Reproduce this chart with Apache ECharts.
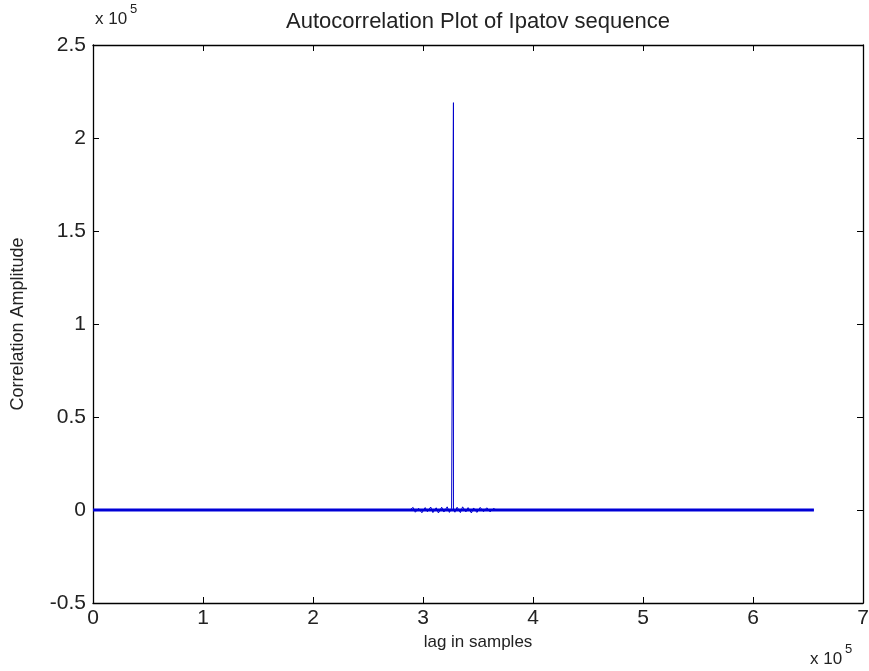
<!DOCTYPE html>
<html>
<head>
<meta charset="utf-8">
<title>Autocorrelation Plot of Ipatov sequence</title>
<script src="https://cdn.jsdelivr.net/npm/echarts@6/dist/echarts.min.js"></script>
<style>
  html, body { margin: 0; padding: 0; background: #fff; }
  #chart { width: 869px; height: 671px; }
</style>
</head>
<body>
<div id="chart"></div>
<script>
// lag (samples) and correlation amplitude
const lags = [
  0, 288000, 291000, 293000, 296000, 299000, 302000, 304000, 307000, 309000,
  312000, 314000, 317000, 319000, 322000, 324000, 326000, 327679, 327680, 327681,
  329000, 331000, 334000, 336000, 339000, 341000, 344000, 346000, 349000, 352000,
  355000, 358000, 361000, 364000, 367000, 655359
];
const amps = [
  0, 0, 1400, -1200, 900, -1500, 1300, -900, 1600, -1400,
  1200, -1600, 1500, -1100, 1700, -1300, 1000, 0, 219000, 0,
  -1200, 1500, -1400, 1700, -1000, 1300, -1600, 1100, -1300, 1400,
  -900, 1200, -1000, 800, 0, 0
];

const xTicks = [0, 1, 2, 3, 4, 5, 6, 7];
const yTicks = [-0.5, 0, 0.5, 1, 1.5, 2, 2.5];
const scale = 1e5;

const font = "Liberation Sans, Arial, sans-serif";
const textColor = "#222";
const grid = { left: 93, right: 6, top: 45, bottom: 68, outerBoundsMode: "none", containLabel: false };

const fmt = (v) => String(Math.round(v / scale * 10) / 10);

const chart = echarts.init(document.getElementById("chart"));

const tickStyle = { inside: true, length: 6, lineStyle: { color: "#000", width: 1 } };
const lineStyle = { color: "#000", width: 1.3 };

function exponentLabel(x, y) {
  return [
    {
      type: "text",
      left: x,
      top: y,
      style: { text: "x 10", fontFamily: font, fontSize: 17, fill: textColor }
    },
    {
      type: "text",
      left: x + 35,
      top: y - 8,
      style: { text: "5", fontFamily: font, fontSize: 13, fill: textColor }
    }
  ];
}

const option = {
  animation: false,
  backgroundColor: "#fff",
  title: {
    text: "Autocorrelation Plot of Ipatov sequence",
    left: 473,
    top: 6,
    textAlign: "center",
    textStyle: { fontFamily: font, fontSize: 22, fontWeight: "normal", color: textColor }
  },
  grid,
  xAxis: [
    {
      type: "value",
      min: xTicks[0] * scale,
      max: xTicks[xTicks.length - 1] * scale,
      interval: scale,
      name: "lag in samples",
      nameLocation: "middle",
      nameGap: 21,
      nameTextStyle: { fontFamily: font, fontSize: 17, color: textColor },
      axisLine: { onZero: false, lineStyle },
      axisTick: tickStyle,
      splitLine: { show: false },
      axisLabel: { formatter: fmt, fontFamily: font, fontSize: 21, color: textColor, margin: 5 }
    },
    {
      type: "value",
      position: "top",
      min: xTicks[0] * scale,
      max: xTicks[xTicks.length - 1] * scale,
      interval: scale,
      axisLine: { onZero: false, lineStyle },
      axisTick: tickStyle,
      splitLine: { show: false },
      axisLabel: { show: false }
    }
  ],
  yAxis: [
    {
      type: "value",
      min: yTicks[0] * scale,
      max: yTicks[yTicks.length - 1] * scale,
      interval: 0.5 * scale,
      name: "Correlation Amplitude",
      nameLocation: "middle",
      nameGap: 66,
      nameTextStyle: { fontFamily: font, fontSize: 18, color: textColor },
      axisLine: { show: true, onZero: false, lineStyle },
      axisTick: tickStyle,
      splitLine: { show: false },
      axisLabel: { formatter: fmt, fontFamily: font, fontSize: 21, color: textColor, margin: 7 }
    },
    {
      type: "value",
      position: "right",
      min: yTicks[0] * scale,
      max: yTicks[yTicks.length - 1] * scale,
      interval: 0.5 * scale,
      axisLine: { show: true, onZero: false, lineStyle },
      axisTick: tickStyle,
      splitLine: { show: false },
      axisLabel: { show: false }
    }
  ],
  graphic: [].concat(exponentLabel(95, 11), exponentLabel(810, 651)),
  series: [
    {
      type: "line",
      name: "baseline",
      data: [[lags[0], 0], [lags[lags.length - 1], 0]],
      showSymbol: false,
      lineStyle: { color: "#0000dd", width: 3 },
      z: 2
    },
    {
      type: "line",
      name: "autocorrelation",
      data: lags.map((l, i) => [l, amps[i]]),
      showSymbol: false,
      lineStyle: { color: "#0000cc", width: 1 },
      z: 3
    }
  ]
};

chart.setOption(option);
</script>
</body>
</html>
